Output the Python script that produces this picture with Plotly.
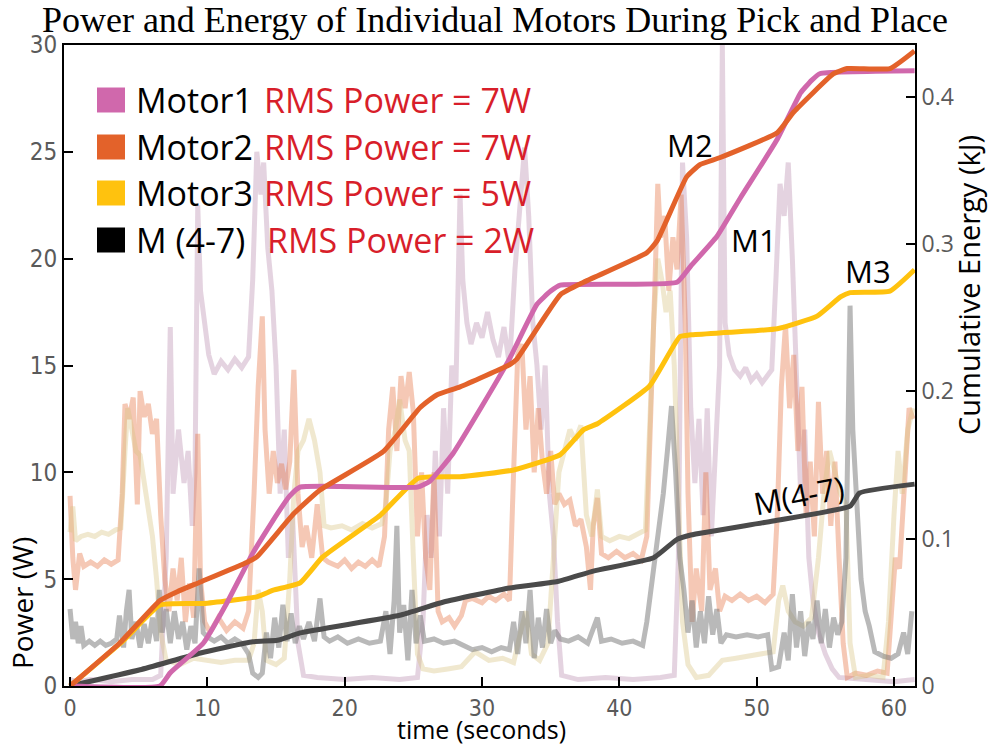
import plotly.graph_objects as go

# ---------------- data ----------------
# Instantaneous power (W), faded traces
t_p1 = [0, 0.5, 1.5, 3, 4.5, 6.0, 6.6, 7.0, 7.3, 7.5, 7.9, 8.3, 8.6, 8.9, 9.1, 9.3, 9.5, 9.8, 10.1, 10.5, 11.0, 11.5, 12.0, 12.5, 13.0, 13.3, 13.6, 13.9, 14.1, 14.4, 14.7, 15.0, 15.3, 15.6, 15.9, 16.2, 16.6, 17.0, 18, 20, 22, 24, 25.3, 25.7, 26.0, 26.3, 26.6, 26.9, 27.2, 27.5, 27.8, 28.1, 28.4, 28.6, 28.9, 29.2, 29.6, 30.0, 30.4, 30.8, 31.2, 31.6, 32.0, 32.4, 32.8, 33.1, 33.4, 33.7, 34.0, 34.3, 34.6, 34.9, 35.2, 35.5, 35.8, 37, 39, 41, 43, 44.0, 44.3, 44.6, 44.9, 45.2, 45.5, 45.8, 46.1, 46.4, 46.7, 47.0, 47.3, 47.5, 47.7, 48.0, 48.4, 48.8, 49.2, 49.6, 50.0, 50.4, 50.8, 51.1, 51.4, 51.7, 52.0, 52.3, 52.6, 52.9, 53.2, 53.5, 53.8, 54.1, 54.5, 55.0, 55.5, 56.0, 58, 60, 61.5]
p_motor1 = [0.3, 0.2, 0.3, 0.2, 0.3, 0.3, 0.5, 6, 16.8, 9, 12, 9.5, 11, 7.5, 10, 22.5, 18.5, 17, 15.5, 14.6, 15.2, 14.8, 15.3, 14.9, 15.4, 19, 25, 23, 24.5, 20.5, 18.5, 15, 9, 12, 6, 8, 2, 0.5, 0.4, 0.3, 0.4, 0.3, 0.4, 3, 8, 6, 11, 7, 13, 9, 15, 14, 23, 19, 17, 16, 17, 16.3, 17.5, 16.2, 15.4, 16.8, 15.0, 19.5, 23, 25.2, 22, 17, 15, 12, 15, 9, 7, 3, 0.5, 0.3, 0.4, 0.3, 0.4, 0.5, 6, 24.5, 21, 13, 9.5, 12.5, 8, 13, 7, 11, 15, 30, 17, 15.5, 14.8, 14.5, 14.9, 14.3, 14.6, 14.2, 14.5, 14.8, 19, 23.5, 22, 24.5, 20, 14, 9, 12, 6, 4, 2.5, 1.5, 0.8, 0.4, 0.3, 0.2, 0.3]

t_p2 = [0, 0.2, 0.4, 0.7, 1.0, 1.5, 2.0, 2.5, 3.0, 3.5, 3.8, 4.0, 4.3, 4.6, 4.9, 5.1, 5.4, 5.7, 6.0, 6.3, 6.6, 6.9, 7.2, 7.5, 7.8, 8.1, 8.4, 8.7, 9.0, 9.3, 9.5, 9.8, 10.2, 10.8, 11.4, 12.0, 12.6, 13.0, 13.4, 13.7, 14.0, 14.2, 14.5, 14.8, 15.1, 15.4, 15.7, 16.0, 16.3, 16.6, 16.9, 17.2, 17.6, 18.0, 18.4, 18.8, 19.5, 20.0, 20.5, 21.0, 21.5, 22.0, 22.5, 22.9, 23.2, 23.5, 23.8, 24.1, 24.4, 24.7, 25.0, 25.3, 25.6, 25.9, 26.2, 26.5, 26.8, 27.1, 27.6, 28.0, 28.5, 28.8, 29.3, 30, 30.5, 31, 31.6, 32.0, 32.3, 32.6, 32.9, 33.2, 33.5, 33.8, 34.1, 34.4, 34.7, 35.0, 35.3, 35.6, 36.0, 36.4, 36.8, 37.2, 37.6, 37.9, 38.1, 38.4, 38.7, 39.2, 39.8, 40.4, 41.0, 41.6, 42.0, 42.3, 42.6, 42.8, 43.0, 43.3, 43.6, 43.9, 44.2, 44.5, 44.8, 45.0, 45.3, 45.6, 46.0, 46.3, 46.6, 47.0, 47.3, 47.7, 48.2, 48.8, 49.4, 50.0, 50.6, 51.2, 51.5, 51.8, 52.1, 52.4, 52.7, 53.0, 53.3, 53.6, 53.9, 54.2, 54.5, 54.8, 55.1, 55.4, 55.7, 56.0, 56.3, 56.6, 57.2, 58.0, 58.8, 59.5, 59.8, 60.1, 60.4, 60.8, 61.1, 61.4]
p_motor2 = [8.9, 6, 4.5, 6.2, 5.6, 5.8, 5.6, 5.9, 5.7, 5.9, 9, 13.2, 12.5, 13.5, 8.5, 13.8, 12.6, 13.2, 11.8, 12.5, 8, 5, 3.5, 5.5, 4, 6, 3, 4.8, 3.2, 11.8, 5, 3, 2.5, 3.2, 2.6, 3, 2.7, 3.5, 9, 14, 17.3, 12, 9, 11, 9.5, 10.4, 9.2, 10.5, 14.8, 9, 6.5, 7.5, 6, 8.5, 6, 5.8, 5.6, 5.9, 5.5, 5.8, 5.6, 5.9, 5.6, 7, 12, 14, 11, 14.5, 13, 14.7, 12.8, 7, 10, 6, 4.5, 10, 3.5, 3, 3.2, 2.8, 3.3, 4, 4.1, 3.9, 4.2, 4.0, 4.3, 4.0, 10, 15.5, 16, 12, 14.5, 10, 13, 10.5, 9, 11, 8.5, 9, 8.5, 8.7, 7.5, 7.8, 6.5, 4.5, 7.5, 8.8, 6.2, 6.0, 6.3, 6.0, 6.2, 5.9, 7, 14, 19, 23.5, 21, 22, 18.5, 21, 19.5, 23, 17, 9, 3, 5.5, 3.5, 10, 4.5, 5.5, 3.5, 4.2, 4.0, 4.3, 4.0, 4.2, 3.9, 4.3, 8, 14, 16.9, 13, 15.5, 11, 14, 8, 10.5, 7, 13.3, 9, 11, 7.5, 10.5, 6, 2, 0.4, 0.6, 0.5, 0.7, 0.6, 3, 6, 5.5, 10, 13, 12.5]

t_p3 = [0, 0.2, 0.4, 0.8, 1.3, 1.8, 2.3, 2.8, 3.3, 3.7, 4.0, 4.2, 4.5, 4.8, 5.1, 5.4, 5.7, 6.0, 6.3, 6.6, 7.0, 8, 9, 10, 11, 12, 13, 13.4, 13.7, 14.0, 14.3, 15.0, 15.6, 16.0, 16.3, 16.6, 17.0, 17.4, 17.8, 18.2, 18.5, 19.0, 19.8, 20.5, 21.3, 22.0, 22.7, 23.0, 23.3, 23.7, 24.0, 24.4, 24.7, 25.0, 25.3, 25.7, 26.5, 27.5, 28.5, 29.5, 30.5, 31.5, 32.3, 32.8, 33.2, 33.6, 34.2, 34.8, 35.2, 35.6, 36.0, 36.4, 36.8, 37.2, 37.6, 38.0, 38.4, 38.7, 39.3, 40.0, 40.7, 41.4, 41.9, 42.2, 42.5, 42.8, 43.1, 43.4, 43.7, 44.0, 44.3, 44.6, 45.0, 45.6, 46.5, 47.5, 48.5, 49.5, 50.5, 51.2, 51.6, 51.9, 52.3, 52.8, 53.4, 54.0, 54.5, 54.9, 55.3, 55.7, 56.1, 56.5, 56.8, 57.2, 58.2, 59.2, 59.6, 60.0, 60.3, 60.6, 61.0, 61.4]
p_motor3 = [7.2, 8.4, 6.8, 7.0, 7.1, 7.0, 7.2, 7.1, 7.3, 7.4, 11, 13, 12, 11, 10.8, 9.5, 8.5, 7, 5, 2.5, 1.2, 1.0, 1.3, 1.2, 1.1, 1.2, 1.2, 2, 4.5, 3.5, 1.2, 1.0, 1.3, 5, 9, 11, 11.5, 12.5, 11.5, 10, 7.5, 7.4, 7.5, 7.3, 7.6, 7.4, 7.6, 8.5, 11, 12, 13.4, 11.5, 11, 6, 1.5, 0.8, 0.7, 0.8, 0.9, 1.6, 1.2, 1.3, 1.1, 2.5, 3.5, 1.5, 1.2, 2, 6, 10, 11, 12, 11.5, 12.2, 8, 7, 9.2, 7, 6.8, 7.0, 6.9, 7.1, 7.3, 12, 17, 20, 19, 17.5, 18.5, 15, 9, 3, 1, 0.4, 0.5, 1.2, 1.3, 1.4, 1.5, 1.6, 4, 4.7, 3.5, 3.0, 2.8, 3.2, 6, 9, 11, 10, 9, 8.5, 2, 0.4, 0.5, 0.4, 3, 8, 11, 9, 12, 13]

t_p4 = [0, 0.2, 0.4, 0.6, 0.8, 1.0, 1.4, 1.8, 2.2, 2.6, 3.0, 3.4, 3.6, 3.9, 4.1, 4.3, 4.5, 4.8, 5.1, 5.4, 5.7, 6.0, 6.3, 6.5, 6.7, 7.0, 7.3, 7.6, 7.9, 8.2, 8.5, 8.8, 9.1, 9.4, 9.7, 10.0, 10.5, 11.0, 11.5, 12.0, 12.5, 13.0, 13.3, 13.7, 14.0, 14.3, 14.6, 14.9, 15.2, 15.5, 15.8, 16.1, 16.4, 16.7, 17.0, 17.4, 17.8, 18.2, 18.5, 18.9, 19.5, 20.2, 21.0, 21.8, 22.6, 23.0, 23.3, 23.6, 23.8, 24.0, 24.3, 24.6, 24.9, 25.2, 25.5, 25.8, 26.5, 27.2, 28.0, 28.6, 29.3, 30.0, 30.7, 31.4, 32.0, 32.3, 32.6, 32.9, 33.2, 33.5, 33.8, 34.1, 34.4, 34.7, 35.0, 35.3, 35.7, 36.3, 37.0, 37.7, 38.4, 38.7, 39.4, 40.2, 41.0, 41.7, 42.0, 42.4, 42.8, 43.2, 43.5, 43.8, 44.1, 44.4, 44.7, 45.0, 45.3, 45.6, 45.9, 46.2, 46.5, 46.8, 47.1, 47.4, 47.8, 48.5, 49.3, 50.1, 50.8, 51.1, 51.6, 52.0, 52.3, 52.6, 52.9, 53.2, 53.5, 53.8, 54.1, 54.4, 54.7, 55.0, 55.3, 55.6, 55.9, 56.2, 56.5, 56.8, 57.0, 57.3, 57.6, 57.9, 58.2, 58.6, 59.2, 59.8, 60.3, 60.7, 61.0, 61.3]
p_m47 = [3.6, 2.2, 3.0, 2.0, 2.8, 1.9, 2.1, 1.9, 2.1, 1.9, 2.0, 2.2, 3.3, 1.8, 3.5, 4.5, 2.2, 3.0, 1.8, 2.9, 2.0, 3.2, 2.1, 4.5, 2.5, 3.6, 2.0, 3.5, 2.2, 3.0, 1.7, 2.8, 2.0, 5.5, 2.5, 2.3, 2.1, 2.3, 2.0, 2.2, 2.0, 1.5, 0.6, 0.4, 0.6, 2.5, 1.3, 3.2, 1.8, 3.8, 2.1, 3.4, 2.0, 2.8, 2.2, 3.0, 2.1, 4.1, 2.3, 2.1, 2.3, 2.0, 2.2, 2.0, 2.1, 3.5, 1.5, 4.0, 7.5, 2.5, 3.8, 1.2, 4.5, 2.0, 3.3, 2.1, 2.2, 2.0, 2.1, 1.9, 1.7, 1.8, 1.6, 1.8, 1.7, 3.0, 1.5, 3.5, 2.0, 4.5, 1.3, 3.2, 1.8, 3.6, 2.0, 2.6, 2.2, 2.1, 2.3, 2.0, 3.2, 2.1, 2.2, 2.0, 2.1, 1.9, 3, 5, 7, 9, 11, 13.1, 10, 6, 4.5, 2.5, 4.0, 1.8, 3.5, 2.0, 4.2, 2.4, 3.6, 2.0, 2.4, 2.3, 2.4, 2.3, 2.4, 0.8, 0.9, 2.5, 1.2, 4.3, 1.8, 3.5, 1.4, 3.0, 2.2, 4.0, 2.0, 3.6, 1.8, 3.2, 2.4, 3.0, 6, 17.8, 12, 8.5, 5, 3.5, 2.8, 1.6, 1.4, 1.3, 1.5, 2.5, 1.5, 3.5]

# Cumulative energy (kJ)
t_e1 = [0, 6.55, 7.3, 9.7, 11.4, 13.3, 15.1, 16.0, 16.75, 25.3, 26.2, 27.9, 30, 32.0, 34.0, 35.0, 35.7, 44.2, 45.2, 47.1, 48.8, 51.5, 53.2, 54.0, 54.6, 61.5]
e_motor1 = [0, 0, 0.009, 0.029, 0.056, 0.090, 0.117, 0.129, 0.135, 0.135, 0.139, 0.158, 0.190, 0.222, 0.259, 0.268, 0.272, 0.274, 0.285, 0.305, 0.331, 0.371, 0.4025, 0.411, 0.4155, 0.4175]
t_e2 = [0, 3.6, 6.55, 7.8, 9.5, 12.9, 13.6, 16.3, 18.2, 22.8, 25.5, 26.7, 28.4, 32.0, 32.5, 35.7, 37.4, 42.0, 42.75, 44.9, 45.9, 47.3, 51.5, 52.7, 55.6, 56.6, 59.7, 61.5]
e_motor2 = [0, 0.029, 0.058, 0.064, 0.0706, 0.084, 0.0876, 0.117, 0.133, 0.159, 0.189, 0.1975, 0.203, 0.218, 0.2215, 0.2655, 0.274, 0.294, 0.302, 0.3455, 0.354, 0.3585, 0.3755, 0.3895, 0.4155, 0.419, 0.419, 0.431]
t_e3 = [0, 3.9, 6.55, 9.7, 13.6, 14.8, 16.75, 18.4, 22.6, 25.35, 28.4, 32.3, 35.7, 37.4, 38.4, 42.2, 44.4, 45.2, 51.5, 54.4, 56.1, 56.8, 59.7, 61.5]
e_motor3 = [0, 0.031, 0.055, 0.056, 0.0605, 0.065, 0.070, 0.0876, 0.116, 0.141, 0.142, 0.1466, 0.157, 0.174, 0.178, 0.2036, 0.237, 0.2383, 0.2424, 0.251, 0.264, 0.267, 0.268, 0.2825]
t_e4 = [0, 5.1, 9.5, 13.3, 15.1, 16.75, 24.0, 27.2, 32.0, 35.5, 38.1, 42.5, 44.2, 45.2, 51.2, 56.8, 57.5, 61.5]
e_m47 = [0, 0.011, 0.0224, 0.030, 0.031, 0.036, 0.048, 0.057, 0.0665, 0.0709, 0.078, 0.087, 0.0995, 0.1025, 0.112, 0.122, 0.131, 0.137]

legend_names = ["Motor1", "Motor2", "Motor3", "M (4-7)"]
rms_power = [7, 7, 5, 2]
curve_labels = ["M2", "M1", "M3", "M(4-7)"]
x_ticks = [0, 10, 20, 30, 40, 50, 60]
y_ticks = [0, 5, 10, 15, 20, 25, 30]
y2_ticks = [0, 0.1, 0.2, 0.3, 0.4]
y2_ticklabels = ["0", "0.1", "0.2", "0.3", "0.4"]

# ---------------- styles ----------------
C1, C2, C3, C4 = "#d068ac", "#e3622a", "#ffc20e", "#4a4a4a"
LEG = ["#d068ac", "#e3622a", "#ffc20e", "#000000"]
PALE = ["rgba(190,150,182,0.42)", "rgba(228,110,60,0.38)", "rgba(215,195,130,0.38)", "rgba(128,128,128,0.55)"]
RED = "#d81e2a"
SANS = "Open Sans, Noto Sans, sans-serif"
NARROW = "Liberation Sans Narrow, DejaVu Sans Condensed, sans-serif"

fig = go.Figure()
for tt, vv, col in [(t_p1, p_motor1, PALE[0]), (t_p2, p_motor2, PALE[1]),
                    (t_p3, p_motor3, PALE[2]), (t_p4, p_m47, PALE[3])]:
    fig.add_trace(go.Scatter(x=tt, y=vv, mode="lines", line=dict(color=col, width=5),
                             showlegend=False, hoverinfo="skip"))

for tt, vv, col in [(t_e4, e_m47, C4), (t_e3, e_motor3, C3), (t_e1, e_motor1, C1), (t_e2, e_motor2, C2)]:
    fig.add_trace(go.Scatter(x=tt, y=vv, mode="lines", yaxis="y2",
                             line=dict(color=col, width=5, shape="spline", smoothing=0.4),
                             showlegend=False))

# ---------------- layout ----------------
L, R, T, B = 64, 915, 45, 686
W_, H_ = 990, 746
def px(x):
    return (x - L) / (R - L)
def py(y):
    return (B - y) / (B - T)

fig.update_layout(
    width=W_, height=H_,
    margin=dict(l=L, r=W_ - R, t=T, b=H_ - B),
    paper_bgcolor="white", plot_bgcolor="white",
    title=dict(text="Power and Energy of Individual Motors During Pick and Place",
               font=dict(family="Liberation Serif, Times New Roman, serif", size=36, color="black"),
               x=0.5, xanchor="center", y=0.974, yanchor="middle", yref="container"),
    xaxis=dict(range=[-0.44, 61.53], tickvals=x_ticks, ticks="inside", ticklen=9, tickwidth=1.5,
               tickcolor="black", showline=True, linecolor="black", linewidth=2, mirror=True,
               showgrid=False, zeroline=False,
               tickfont=dict(family=NARROW, size=23, color="#5a5a5a")),
    yaxis=dict(range=[0, 30], tickvals=y_ticks, ticks="inside", ticklen=9, tickwidth=1.5,
               tickcolor="black", showline=True, linecolor="black", linewidth=2, mirror=True,
               showgrid=False, zeroline=False,
               tickfont=dict(family=NARROW, size=24, color="#5a5a5a")),
    yaxis2=dict(range=[0, 0.435], overlaying="y", side="right", tickvals=y2_ticks,
                ticktext=y2_ticklabels, ticks="inside", ticklen=9, tickwidth=1.5, tickcolor="black",
                showline=True, linecolor="black", linewidth=2, showgrid=False, zeroline=False,
                tickfont=dict(family=SANS, size=23, color="#5a5a5a")),
    showlegend=False,
)

ann = []
# axis titles
ann.append(dict(text="Power (W)", xref="paper", yref="paper", x=px(22), y=py(603), textangle=-90,
                showarrow=False, font=dict(family=SANS, size=28, color="black"),
                xanchor="center", yanchor="middle"))
ann.append(dict(text="Cumulative Energy (kJ)", xref="paper", yref="paper", x=px(968), y=py(285),
                textangle=-90, showarrow=False, font=dict(family=SANS, size=29, color="black"),
                xanchor="center", yanchor="middle"))
ann.append(dict(text="time (seconds)", xref="paper", yref="paper", x=px(481), y=py(729),
                showarrow=False, font=dict(family=SANS, size=25, color="black"),
                xanchor="center", yanchor="middle"))

# custom legend
row_y = [100, 147, 193, 240]
shapes = []
for i, name in enumerate(legend_names):
    yc = row_y[i]
    shapes.append(dict(type="rect", xref="paper", yref="paper", x0=px(97), x1=px(125),
                       y0=py(yc + 12.5), y1=py(yc - 12.5), fillcolor=LEG[i], line=dict(width=0)))
    ann.append(dict(text=name, xref="paper", yref="paper", x=px(134), y=py(yc), xanchor="left",
                    yanchor="middle", showarrow=False, font=dict(family=SANS, size=34, color="black")))
    ann.append(dict(text=f"RMS Power = {rms_power[i]}W", xref="paper", yref="paper",
                    x=px(262 if i < 3 else 265), y=py(yc), xanchor="left", yanchor="middle",
                    showarrow=False, font=dict(family=SANS, size=34, color=RED)))

# curve labels
for txt, xx, yy, ang in zip(curve_labels, [45.16, 49.8, 58.1, 53.1], [0.367, 0.303, 0.2817, 0.1297],
                            [0, 0, 0, -11]):
    ann.append(dict(text=txt, x=xx, y=yy, xref="x", yref="y2", showarrow=False, textangle=ang,
                    font=dict(family=SANS, size=31, color="black"), xanchor="center", yanchor="middle"))

fig.update_layout(annotations=ann, shapes=shapes)
fig.write_html("out.html")
